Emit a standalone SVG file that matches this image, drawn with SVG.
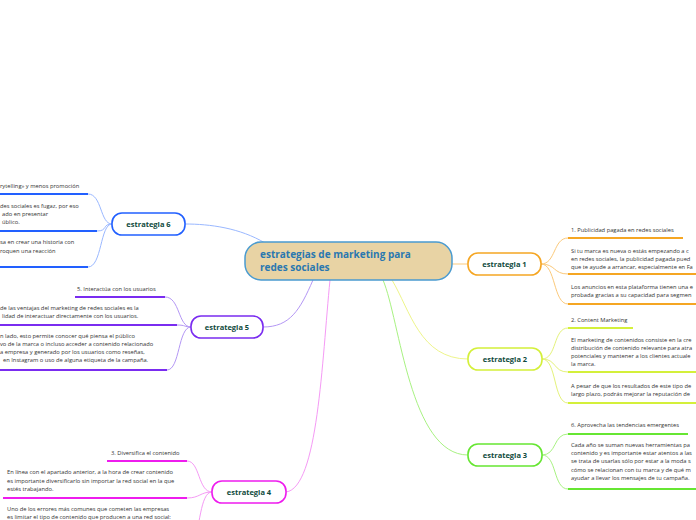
<svg xmlns="http://www.w3.org/2000/svg" width="696" height="520" viewBox="0 0 696 520">
<style>
.t{font-family:"Open Sans","Noto Sans",sans-serif;font-size:5.75px;fill:#333}
.n{font-family:"Open Sans","Noto Sans",sans-serif;font-size:7.5px;font-weight:bold;fill:#0f4a3c;text-anchor:middle}
.c{font-family:"Open Sans","Noto Sans",sans-serif;font-size:10px;font-weight:bold;fill:#2a78b0}
.node{fill:#fff;stroke-width:1.6}
.u{fill:none;stroke-width:2}
.l{fill:none;stroke-width:1}
</style>
<rect width="696" height="520" fill="#fff"/>
<g id="connectors">
<path class="l" stroke="#9ab8ff" d="M265 243 C240 228 210 224 185 224"/>
<path class="l" stroke="#b497f5" d="M313 280 C300 310 290 327 263 327"/>
<path class="l" stroke="#f59af5" d="M330 280 C322 360 318 488 286 492"/>
<path class="l" stroke="#a8f282" d="M383 280 C400 320 410 455 468 455"/>
<path class="l" stroke="#eef58a" d="M392 280 C410 310 420 359 468 359"/>
<path class="l" stroke="#fbc97a" d="M452 264 L468 264"/>
<path class="l" stroke="#fbc97a" d="M541 264 C556 264 553 238 568 238"/>
<path class="l" stroke="#fbc97a" d="M541 264 C556 264 553 274 568 274"/>
<path class="l" stroke="#fbc97a" d="M541 264 C556 264 553 304 568 304"/>
<path class="l" stroke="#e4f27a" d="M542 359 C557 359 553 328 568 328"/>
<path class="l" stroke="#e4f27a" d="M542 359 C557 359 553 372 568 372"/>
<path class="l" stroke="#e4f27a" d="M542 359 C557 359 553 403 568 403"/>
<path class="l" stroke="#a8f282" d="M542 455 C557 455 553 434 568 434"/>
<path class="l" stroke="#a8f282" d="M542 455 C557 455 553 489 568 489"/>
<path class="l" stroke="#9ab8ff" d="M112 224 C100 224 102 194 88 194"/>
<path class="l" stroke="#9ab8ff" d="M112 224 C102 224 108 231 97 231"/>
<path class="l" stroke="#9ab8ff" d="M112 224 C100 224 102 267 88 267"/>
<path class="l" stroke="#b497f5" d="M191 327 C178 327 180 297 165 297"/>
<path class="l" stroke="#b497f5" d="M191 327 C184 327 186 325 177 325"/>
<path class="l" stroke="#b497f5" d="M191 327 C178 327 180 370 167 370"/>
<path class="l" stroke="#f59af5" d="M212 492 C198 492 200 461 187 461"/>
<path class="l" stroke="#f59af5" d="M212 492 C200 492 200 498 187 498"/>
<path class="l" stroke="#f59af5" d="M212 492 C200 492 200 530 193 545"/>
</g>
<g id="central">
<rect x="245" y="242" width="207" height="38" rx="16" fill="#e8d3a4" stroke="#4a9bd0" stroke-width="1.5"/>
<text class="c" x="260" y="258">estrategias de marketing para</text>
<text class="c" x="260" y="271">redes sociales</text>
</g>
<g id="estrategia1">
<rect class="node" x="468" y="253" width="73" height="22" rx="10" stroke="#f5a623"/>
<text class="n" x="504.5" y="267">estrategia 1</text>
<text class="t" x="571" y="232">1. Publicidad pagada en redes sociales</text>
<path class="u" stroke="#f5a623" d="M568 238 H683"/>
<text class="t" x="571" y="253">Si tu marca es nueva o estás empezando a c</text>
<text class="t" x="571" y="261">en redes sociales, la publicidad pagada pued</text>
<text class="t" x="571" y="269">que te ayude a arrancar, especialmente en Fa</text>
<path class="u" stroke="#f5a623" d="M568 274 H696"/>
<text class="t" x="571" y="289">Los anuncios en esta plataforma tienen una e</text>
<text class="t" x="571" y="297">probada gracias a su capacidad para segmen</text>
<path class="u" stroke="#f5a623" d="M568 304 H696"/>
</g>
<g id="estrategia2">
<rect class="node" x="468" y="348" width="74" height="22" rx="10" stroke="#d4f03a"/>
<text class="n" x="505" y="362">estrategia 2</text>
<text class="t" x="571" y="322">2. Content Marketing</text>
<path class="u" stroke="#d4f03a" d="M568 328 H633"/>
<text class="t" x="571" y="342">El marketing de contenidos consiste en la cre</text>
<text class="t" x="571" y="350">distribución de contenido relevante para atra</text>
<text class="t" x="571" y="358">potenciales y mantener a los clientes actuale</text>
<text class="t" x="571" y="366">la marca.</text>
<path class="u" stroke="#d4f03a" d="M568 372 H696"/>
<text class="t" x="571" y="388">A pesar de que los resultados de este tipo de</text>
<text class="t" x="571" y="396">largo plazo, podrás mejorar la reputación de</text>
<path class="u" stroke="#d4f03a" d="M568 403 H696"/>
</g>
<g id="estrategia3">
<rect class="node" x="468" y="444" width="74" height="22" rx="10" stroke="#66e632"/>
<text class="n" x="505" y="458">estrategia 3</text>
<text class="t" x="571" y="427">6. Aprovecha las tendencias emergentes</text>
<path class="u" stroke="#66e632" d="M568 434 H688"/>
<text class="t" x="571" y="447">Cada año se suman nuevas herramientas pa</text>
<text class="t" x="571" y="455">contenido y es importante estar atentos a las</text>
<text class="t" x="571" y="463">se trata de usarlas sólo por estar a la moda s</text>
<text class="t" x="571" y="472">cómo se relacionan con tu marca y de qué m</text>
<text class="t" x="571" y="480">ayudar a llevar los mensajes de tu campaña.</text>
<path class="u" stroke="#66e632" d="M568 489 H696"/>
</g>
<g id="estrategia4">
<rect class="node" x="212" y="481" width="74" height="22" rx="10" stroke="#ee1cee"/>
<text class="n" x="249" y="495">estrategia 4</text>
<text class="t" x="111" y="455">3. Diversifica el contenido</text>
<path class="u" stroke="#ee1cee" d="M107 461 H187"/>
<text class="t" x="7" y="474">En línea con el apartado anterior, a la hora de crear contenido</text>
<text class="t" x="7" y="483">es importante diversificarlo sin importar la red social en la que</text>
<text class="t" x="7" y="491">estés trabajando.</text>
<path class="u" stroke="#ee1cee" d="M3 498 H187"/>
<text class="t" x="7" y="511">Uno de los errores más comunes que cometen las empresas</text>
<text class="t" x="7" y="519">es limitar el tipo de contenido que producen a una red social:</text>
</g>
<g id="estrategia5">
<rect class="node" x="191" y="316" width="72" height="22" rx="10" stroke="#7a2cf0"/>
<text class="n" x="227" y="330">estrategia 5</text>
<text class="t" x="77" y="291">5. Interactúa con los usuarios</text>
<path class="u" stroke="#7a2cf0" d="M75 297 H165"/>
<text class="t" x="0" y="310">de las ventajas del marketing de redes sociales es la</text>
<text class="t" x="2" y="318">lidad de interactuar directamente con los usuarios.</text>
<path class="u" stroke="#7a2cf0" d="M0 325 H177"/>
<text class="t" x="0" y="338">n lado, esto permite conocer qué piensa el público</text>
<text class="t" x="0" y="346">vo de la marca o incluso acceder a contenido relacionado</text>
<text class="t" x="0" y="354">a empresa y generado por los usuarios como reseñas,</text>
<text class="t" x="3" y="362">en Instagram o uso de alguna etiqueta de la campaña.</text>
<path class="u" stroke="#7a2cf0" d="M0 370 H167"/>
</g>
<g id="estrategia6">
<rect class="node" x="112" y="213" width="73" height="22" rx="10" stroke="#2260ff"/>
<text class="n" x="148.5" y="227">estrategia 6</text>
<text class="t" x="0" y="188">rytelling» y menos promoción</text>
<path class="u" stroke="#2260ff" d="M0 194 H88"/>
<text class="t" x="0" y="208">des sociales es fugaz, por eso</text>
<text class="t" x="2" y="216">ado en presentar</text>
<text class="t" x="2" y="224">úblico.</text>
<path class="u" stroke="#2260ff" d="M0 231 H97"/>
<text class="t" x="0" y="244">sa en crear una historia con</text>
<text class="t" x="0" y="253">roquen una reacción</text>
<path class="u" stroke="#2260ff" d="M0 267 H88"/>
</g>
</svg>
